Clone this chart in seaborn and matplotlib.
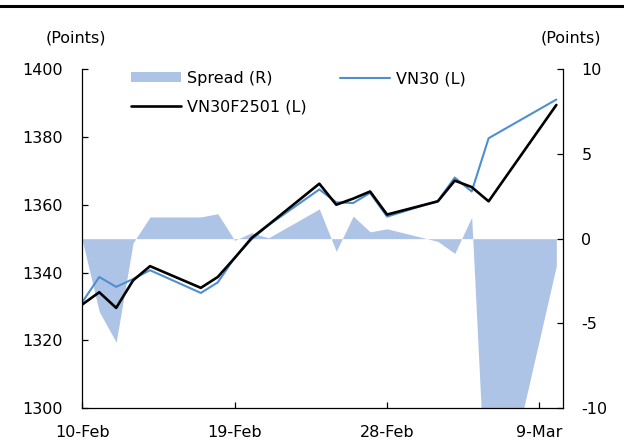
import matplotlib
matplotlib.use("Agg")
import matplotlib.pyplot as plt
import seaborn as sns
import pandas as pd
from matplotlib.patches import Patch
from matplotlib.lines import Line2D

# ---------------- data ----------------
dates = ["2025-02-10", "2025-02-11", "2025-02-12", "2025-02-13", "2025-02-14",
         "2025-02-17", "2025-02-18", "2025-02-19", "2025-02-20", "2025-02-21",
         "2025-02-24", "2025-02-25", "2025-02-26", "2025-02-27", "2025-02-28",
         "2025-03-03", "2025-03-04", "2025-03-05", "2025-03-06", "2025-03-10"]
vn30 = [1331.3, 1338.7, 1335.8, 1338.1, 1340.7,
        1334.0, 1337.1, 1344.4, 1349.8, 1354.0,
        1364.5, 1360.7, 1360.5, 1363.5, 1356.5,
        1361.1, 1368.0, 1363.9, 1379.6, 1391.0]
vn30f2501 = [1330.6, 1334.2, 1329.6, 1337.7, 1341.9,
             1335.5, 1338.7, 1344.3, 1350.2, 1354.1,
             1366.2, 1360.0, 1361.8, 1363.9, 1357.1,
             1361.0, 1367.1, 1365.2, 1361.0, 1389.4]
spread = [-0.1, -4.3, -6.1, -0.25, 1.28,
          1.28, 1.47, -0.1, 0.35, 0.05,
          1.75, -0.75, 1.33, 0.4, 0.58,
          -0.16, -0.87, 1.27, -19.0, -1.6]
tick_dates = ["2025-02-10", "2025-02-19", "2025-02-28", "2025-03-09"]
tick_labels = ["10-Feb", "19-Feb", "28-Feb", "9-Mar"]
left_ticks = [1300, 1320, 1340, 1360, 1380, 1400]
right_ticks = [-10, -5, 0, 5, 10]
series_names = ["Spread (R)", "VN30 (L)", "VN30F2501 (L)"]

df = pd.DataFrame({"date": pd.to_datetime(dates), "vn30": vn30,
                   "vn30f": vn30f2501, "spread": spread})

# ---------------- style ----------------
sns.set_style("white")
plt.rcParams["font.family"] = ["DejaVu Sans"]
plt.rcParams["font.size"] = 11.5
plt.rcParams["axes.unicode_minus"] = False
plt.rcParams["text.color"] = "black"

C_FILL = "#AEC4E6"
C_BLUE = "#4F8FD0"

fig = plt.figure(figsize=(6.24, 4.46), dpi=100)
ax = fig.add_axes([0.1319, 0.0845, 0.7708, 0.7608])
ax2 = ax.twinx()
ax.set_zorder(ax2.get_zorder() + 1)
ax.patch.set_visible(False)

ax2.fill_between(df["date"], df["spread"], 0, color=C_FILL, linewidth=0)
sns.lineplot(data=df, x="date", y="vn30", ax=ax, color=C_BLUE, lw=1.5)
sns.lineplot(data=df, x="date", y="vn30f", ax=ax, color="black", lw=1.9)

x0 = pd.Timestamp("2025-02-10")
ax.set_xlim(x0, x0 + pd.Timedelta(days=28.41))
ax.set_ylim(1300, 1400)
ax2.set_ylim(-10, 10)
ax.set_yticks(left_ticks)
ax2.set_yticks(right_ticks)
ax.set_xticks(pd.to_datetime(tick_dates))
ax.set_xticklabels(tick_labels)
ax.set_xlabel("")
ax.set_ylabel("")
ax2.set_ylabel("")

for a in (ax, ax2):
    a.tick_params(direction="in", length=4, width=0.9, color="black",
                  labelcolor="black", labelsize=11.5)
    a.spines["top"].set_visible(False)
    for s in a.spines.values():
        s.set_color("black")
        s.set_linewidth(0.9)
ax.tick_params(axis="y", pad=14, left=True, right=False)
ax.tick_params(axis="x", pad=12, bottom=True)
ax2.tick_params(axis="y", pad=13, right=True, left=False)
ax.spines["right"].set_visible(False)
ax2.spines["left"].set_visible(False)
ax2.spines["bottom"].set_visible(False)

fig.text(46 / 624, 1 - 38 / 446, "(Points)", ha="left", va="center",
         fontsize=11.5, color="black")
fig.text(601 / 624, 1 - 38 / 446, "(Points)", ha="right", va="center",
         fontsize=11.5, color="black")

fig.add_artist(Line2D([0, 1], [1 - 6 / 446] * 2, color="black", lw=2.2,
                      transform=fig.transFigure))

handles = [Patch(facecolor=C_FILL, edgecolor="none"),
           Line2D([], [], color="black", lw=1.9),
           Line2D([], [], color=C_BLUE, lw=1.5)]
labels = [series_names[0], series_names[2], series_names[1]]
leg = fig.legend(handles, labels, loc="upper left",
                 bbox_to_anchor=(131 / 624, 1 - 71 / 446), ncol=2, frameon=False,
                 handlelength=3.1, handletextpad=0.4, columnspacing=2.1,
                 labelspacing=0.85, borderpad=0, borderaxespad=0, handleheight=0.6,
                 fontsize=11.5)
for t in leg.get_texts():
    t.set_color("black")

fig.savefig("out.png", dpi=100)
